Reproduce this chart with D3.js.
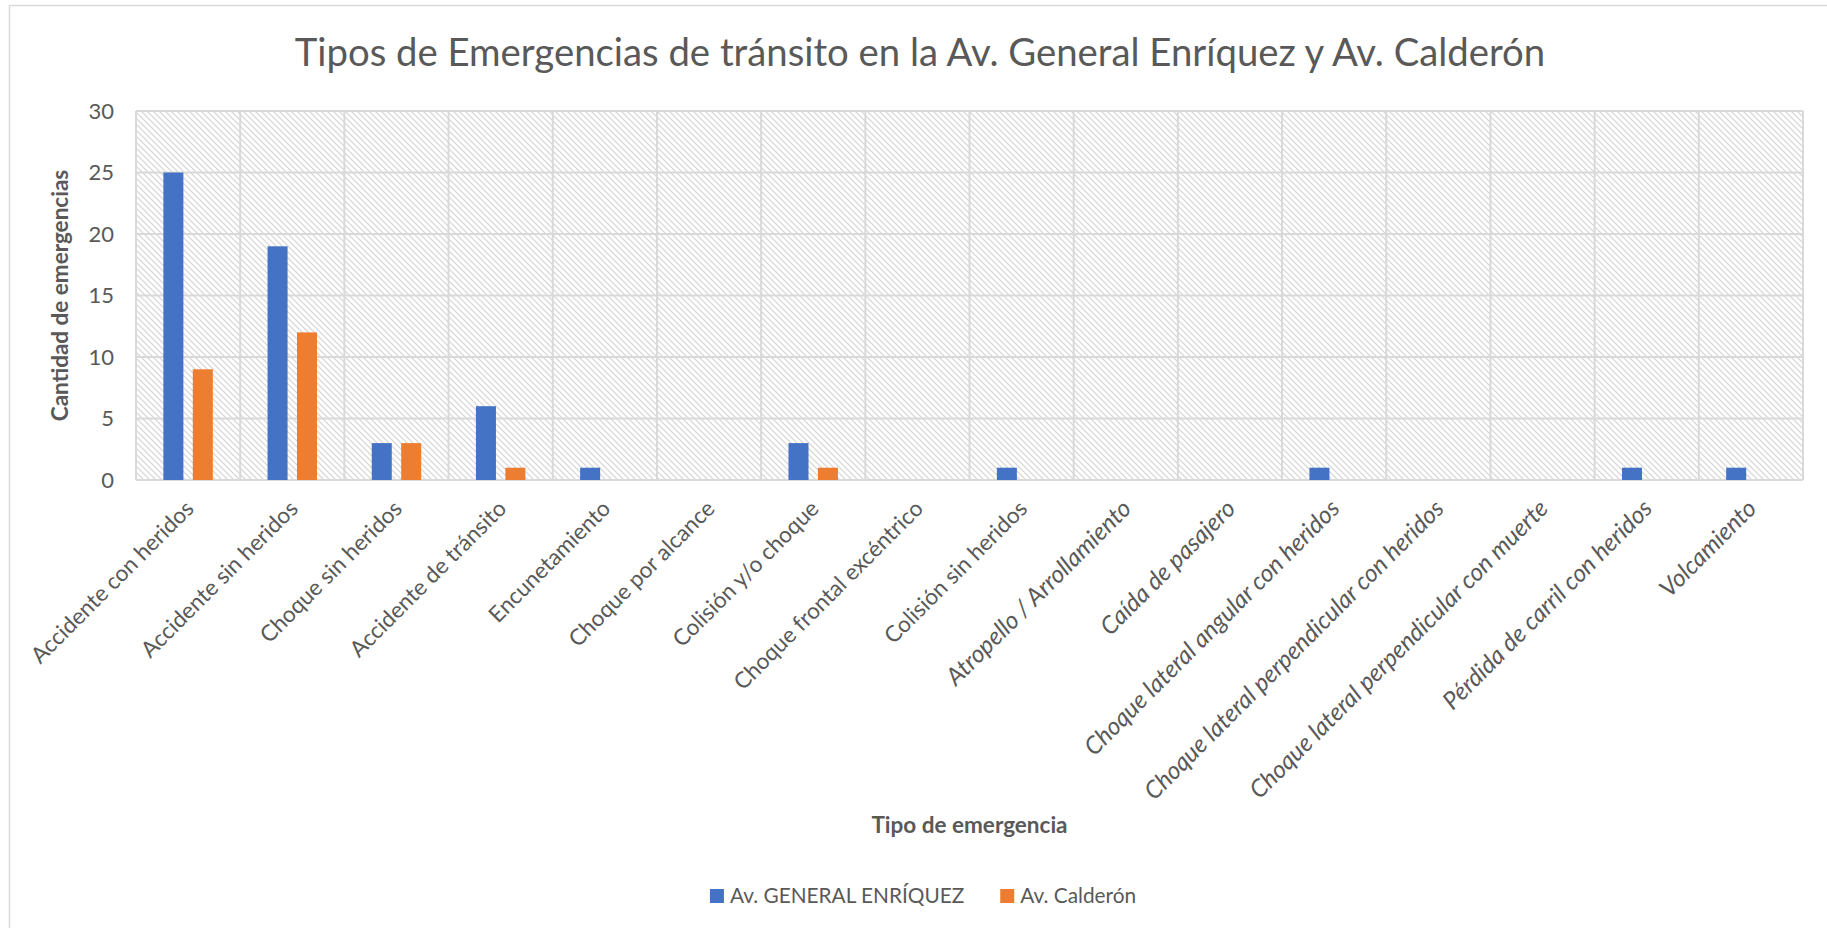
<!DOCTYPE html>
<html>
<head>
<meta charset="utf-8">
<script src="https://cdn.jsdelivr.net/npm/d3@7"></script>
<style>
  html, body { margin: 0; padding: 0; background: #ffffff; }
  svg { display: block; font-family: Lato, "Open Sans", sans-serif; }
</style>
</head>
<body>
<svg id="chart" width="1827" height="928"></svg>
<script>
// Emergency types (x categories)
const categories = [
  "Accidente con heridos",
  "Accidente sin heridos",
  "Choque sin heridos",
  "Accidente de tránsito",
  "Encunetamiento",
  "Choque por alcance",
  "Colisión y/o choque",
  "Choque frontal excéntrico",
  "Colisión sin heridos",
  "Atropello / Arrollamiento",
  "Caída de pasajero",
  "Choque lateral angular con heridos",
  "Choque lateral perpendicular con heridos",
  "Choque lateral perpendicular con muerte",
  "Pérdida de carril con heridos",
  "Volcamiento"
];

// Series
const seriesNames = ["Av. GENERAL ENRÍQUEZ", "Av. Calderón"];
const enriquezValues = [25, 19, 3, 6, 1, 0, 3, 0, 1, 0, 0, 1, 0, 0, 1, 1];
const calderonValues = [9, 12, 3, 1, 0, 0, 1, 0, 0, 0, 0, 0, 0, 0, 0, 0];

// Y axis ticks
const yTicks = [0, 5, 10, 15, 20, 25, 30];

const titleText = "Tipos de Emergencias de tránsito en la Av. General Enríquez y Av. Calderón";
const xTitleText = "Tipo de emergencia";
const yTitleText = "Cantidad de emergencias";

const seriesColors = ["#4472C4", "#ED7D31"];
const textColor = "#595959";
const gridColor = "#D9D9D9";

const svg = d3.select("#chart");
const W = 1827, H = 928;
const plot = { left: 136, right: 1803, top: 111, bottom: 480 };

// Background and chart frame
svg.append("rect").attr("width", W).attr("height", H).attr("fill", "#fff");
svg.append("rect")
  .attr("x", 9.5).attr("y", 5.5)
  .attr("width", W + 20).attr("height", H + 20)
  .attr("fill", "none").attr("stroke", gridColor).attr("stroke-width", 1.5);

// Diagonal hatch for the plot area
const defs = svg.append("defs");
const pat = defs.append("pattern")
  .attr("id", "hatch")
  .attr("patternUnits", "userSpaceOnUse")
  .attr("width", 6).attr("height", 6);
pat.append("rect").attr("width", 6).attr("height", 6).attr("fill", "#fff");
pat.append("path")
  .attr("d", "M0,0 L6,6 M-1,5 L1,7 M5,-1 L7,1")
  .attr("stroke", "#d4d4d4").attr("stroke-width", 1.2);

// Scales
const x0 = d3.scaleBand()
  .domain(categories)
  .range([plot.left, plot.right])
  .paddingInner(0).paddingOuter(0);

const x1 = d3.scaleBand()
  .domain(seriesNames)
  .range([0, x0.bandwidth()])
  .paddingInner(0.32)
  .paddingOuter(0.93);

const y = d3.scaleLinear()
  .domain([0, 30])
  .range([plot.bottom, plot.top]);

// Plot area fill
svg.append("rect")
  .attr("x", plot.left).attr("y", plot.top)
  .attr("width", plot.right - plot.left)
  .attr("height", plot.bottom - plot.top)
  .attr("fill", "url(#hatch)");

// Horizontal gridlines
svg.append("g")
  .selectAll("line")
  .data(yTicks)
  .join("line")
  .attr("x1", plot.left).attr("x2", plot.right)
  .attr("y1", d => y(d)).attr("y2", d => y(d))
  .attr("stroke", gridColor).attr("stroke-width", 2);

// Vertical gridlines at category boundaries
const boundaries = categories.map(c => x0(c)).concat([x0(categories[categories.length - 1]) + x0.bandwidth()]);
svg.append("g")
  .selectAll("line")
  .data(boundaries)
  .join("line")
  .attr("x1", d => d).attr("x2", d => d)
  .attr("y1", plot.top).attr("y2", plot.bottom)
  .attr("stroke", gridColor).attr("stroke-width", 2);

// Bars
const rows = categories.map((c, i) => ({
  cat: c,
  vals: [
    { s: seriesNames[0], v: enriquezValues[i], k: 0 },
    { s: seriesNames[1], v: calderonValues[i], k: 1 }
  ]
}));

svg.append("g")
  .selectAll("g")
  .data(rows)
  .join("g")
  .attr("transform", d => `translate(${x0(d.cat)},0)`)
  .selectAll("rect")
  .data(d => d.vals.filter(e => e.v > 0))
  .join("rect")
  .attr("x", d => x1(d.s))
  .attr("width", x1.bandwidth())
  .attr("y", d => y(d.v))
  .attr("height", d => y(0) - y(d.v))
  .attr("fill", d => seriesColors[d.k]);

// Y axis labels
const yAxis = d3.axisLeft(y).tickValues(yTicks).tickSize(0).tickPadding(22);
const gy = svg.append("g")
  .attr("transform", `translate(${plot.left},0)`)
  .call(yAxis);
gy.select(".domain").remove();
gy.selectAll("text")
  .attr("fill", textColor)
  .style("font-size", "22px")
  .style("font-family", "Lato, sans-serif");

// X axis labels, rotated; the later categories are set in italics
const italicFrom = 9;
svg.append("g")
  .selectAll("text")
  .data(categories)
  .join("text")
  .attr("transform", d => `translate(${x0(d) + x0.bandwidth() / 2 + 7},${plot.bottom + 30}) rotate(-45)`)
  .attr("text-anchor", "end")
  .attr("fill", textColor)
  .style("font-size", (d, i) => i >= italicFrom ? "24.3px" : "22.5px")
  .style("font-style", (d, i) => i >= italicFrom ? "italic" : "normal")
  .text(d => d);

// Title
svg.append("text")
  .attr("x", 920).attr("y", 66)
  .attr("text-anchor", "middle")
  .attr("fill", textColor)
  .style("font-size", "38.3px")
  .text(titleText);

// Axis titles
svg.append("text")
  .attr("x", (plot.left + plot.right) / 2).attr("y", 833)
  .attr("text-anchor", "middle")
  .attr("fill", textColor)
  .style("font-size", "22.5px")
  .style("font-weight", "bold")
  .text(xTitleText);

svg.append("text")
  .attr("transform", `translate(68,${(plot.top + plot.bottom) / 2}) rotate(-90)`)
  .attr("text-anchor", "middle")
  .attr("fill", textColor)
  .style("font-size", "22.5px")
  .style("font-weight", "bold")
  .text(yTitleText);

// Legend
const legend = svg.append("g");
const sw = 14, swGap = 6, itemGap = 36, legendBaseline = 903, legendCenter = 923;
const items = legend.selectAll("g")
  .data(seriesNames)
  .join("g");
items.append("rect")
  .attr("width", sw).attr("height", sw)
  .attr("y", legendBaseline - sw)
  .attr("fill", (d, i) => seriesColors[i]);
items.append("text")
  .attr("x", sw + swGap).attr("y", legendBaseline)
  .attr("fill", textColor)
  .style("font-size", "20.8px")
  .text(d => d);
const widths = [];
items.each(function () {
  widths.push(sw + swGap + d3.select(this).select("text").node().getComputedTextLength());
});
const total = d3.sum(widths) + itemGap * (widths.length - 1);
let cursor = legendCenter - total / 2;
items.attr("transform", (d, i) => {
  const t = `translate(${cursor},0)`;
  cursor += widths[i] + itemGap;
  return t;
});
</script>
</body>
</html>
